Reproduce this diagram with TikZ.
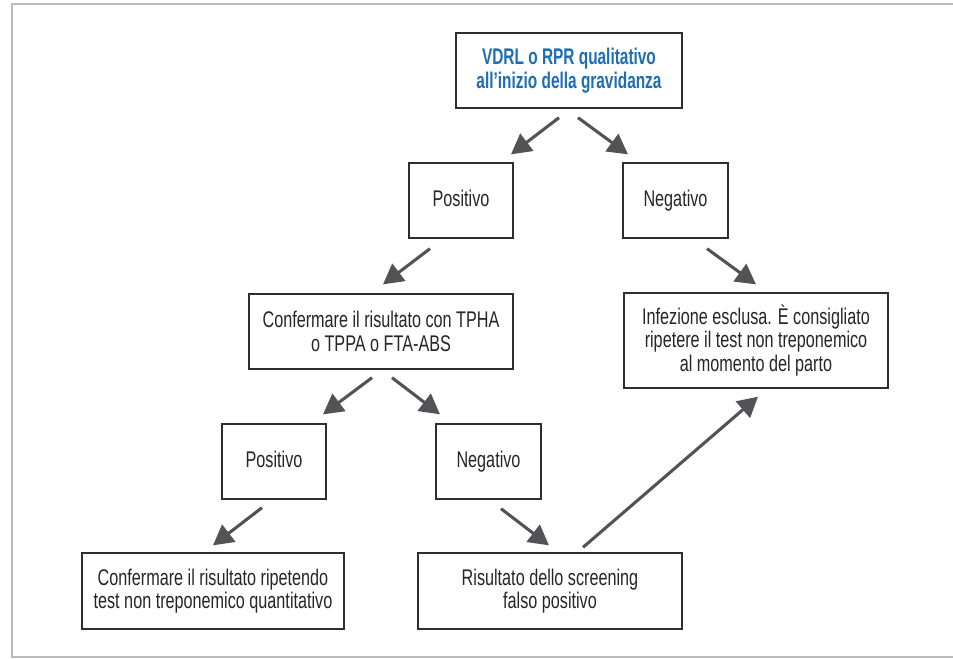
\documentclass[tikz,border=0pt]{standalone}
\usepackage{fontspec}
\setmainfont[FakeStretch=0.715]{Liberation Sans}
\newfontfamily\titlefont[FakeStretch=0.68]{Liberation Sans}
\usetikzlibrary{arrows.meta,calc}
\definecolor{framegray}{HTML}{BBBBBD}
\definecolor{arrowgray}{HTML}{535355}
\definecolor{boxline}{HTML}{2E2E2E}
\definecolor{titleblue}{RGB}{30,110,180}
\begin{document}
\begin{tikzpicture}[x=0.75pt,y=-0.75pt,
  box/.style={draw=boxline,line width=1pt,fill=white,align=center,inner sep=0pt,
    font=\fontsize{17pt}{17.5pt}\selectfont,text=black!85},
  smallbox/.style={box,minimum width=78pt,minimum height=56.25pt,text height=12.5pt,text depth=3.5pt},
  widebox/.style={box,minimum width=198pt,minimum height=56.25pt},
  arr/.style={draw=arrowgray,line width=2.3pt,-{Triangle[length=15pt,width=16pt]}}]
\useasboundingbox (0,0) rectangle (953,658);
\draw[framegray,line width=1.5pt] (953,4) -- (11.5,4) -- (11.5,657) -- (953,657);

\node[box,minimum width=169.5pt,minimum height=56.25pt,
  font=\titlefont\bfseries\fontsize{17pt}{18pt}\selectfont,text=titleblue]
  (top) at (569,70.5) {VDRL o RPR qualitativo\\all’inizio della gravidanza};
\node[smallbox] (pos1) at (461,200.5) {Positivo};
\node[smallbox,minimum width=78.75pt] (neg1) at (675.5,200.5) {Negativo};
\node[widebox] (conf) at (381,331.5) {Confermare il risultato con TPHA\\o TPPA o FTA-ABS};
\node[widebox,minimum height=71.25pt] (inf) at (756,340.5) {Infezione esclusa. È consigliato\\ripetere il test non treponemico\\al momento del parto};
\node[smallbox] (pos2) at (274,461.5) {Positivo};
\node[smallbox,minimum width=78.75pt] (neg2) at (488.5,461.5) {Negativo};
\node[widebox,minimum width=196.5pt,minimum height=57pt] (conf2) at (213,591) {Confermare il risultato ripetendo\\test non treponemico quantitativo};
\node[widebox,minimum height=57pt] (ris) at (550,591) {Risultato dello screening\\falso positivo};

\coordinate (a1s) at ($(top.south)+(-10,9)$);
\coordinate (a1e) at ($(pos1.north)+(50,-8)$);
\coordinate (a2s) at ($(top.south)+(9,9)$);
\coordinate (a2e) at ($(neg1.north)+(-47.5,-8)$);
\coordinate (a3s) at ($(pos1.south)+(-31,10)$);
\coordinate (a3e) at ($(conf.north)+(2,-9)$);
\coordinate (a4s) at ($(neg1.south)+(31.5,10)$);
\coordinate (a4e) at ($(inf.north)+(0,-8)$);
\coordinate (a5s) at ($(conf.south)+(-9,8)$);
\coordinate (a5e) at ($(pos2.north)+(49,-9)$);
\coordinate (a6s) at ($(conf.south)+(11,8)$);
\coordinate (a6e) at ($(neg2.north)+(-48.5,-9)$);
\coordinate (a7s) at ($(pos2.south)+(-12,8)$);
\coordinate (a7e) at ($(conf2.north)+(0,-7)$);
\coordinate (a8s) at ($(neg2.south)+(12.5,9)$);
\coordinate (a8e) at ($(ris.north)+(-1,-7)$);
\coordinate (a9s) at ($(ris.north)+(33,-5)$);
\coordinate (a9e) at ($(inf.south)+(2,8)$);

\foreach \i in {1,...,9} {\draw[arr] (a\i s) -- (a\i e);}
\end{tikzpicture}
\end{document}
